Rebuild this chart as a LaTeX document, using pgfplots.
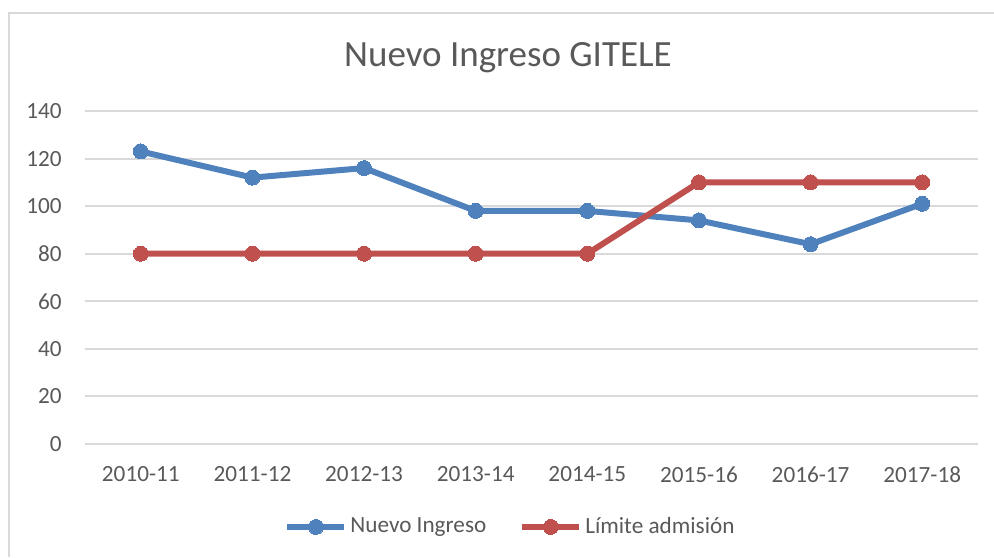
\documentclass[border=0pt]{standalone}
\usepackage{fontspec}
\setmainfont{Carlito}
\usepackage{pgfplots}
\pgfplotsset{compat=1.18}
\definecolor{nblue}{HTML}{4F81BD}
\definecolor{nred}{HTML}{C0504D}
\definecolor{txt}{HTML}{595959}
\definecolor{gridc}{HTML}{D9D9D9}
\begin{document}
\begin{tikzpicture}
\useasboundingbox (0,0) rectangle (497pt,278.5pt);
\draw[gridc, line width=1pt] (4.5pt,0pt) -- (4.5pt,272pt) -- (497pt,272pt);
\node[anchor=base, text=txt, font=\fontsize{18.5}{22}\selectfont, inner sep=0pt] at (254pt,245pt) {Nuevo Ingreso GITELE};
\begin{axis}[
  at={(42.5pt,56.5pt)}, anchor=south west,
  scale only axis, width=446.5pt, height=166.5pt,
  xmin=-0.5, xmax=7.5, ymin=0, ymax=140,
  xtick={0,...,7},
  xticklabels={2010-11,2011-12,2012-13,2013-14,2014-15,2015-16,2016-17,2017-18},
  ytick={0,20,...,140},
  ymajorgrids=true, xmajorgrids=false,
  major grid style={draw=gridc, line width=1pt},
  axis line style={draw=none}, tick style={draw=none},
  /pgf/number format/assume math mode=true,
  ticklabel style={text=txt, font=\fontsize{11.6}{14}\selectfont},
  yticklabel style={inner sep=0pt, xshift=-11.5pt},
  xticklabel style={inner sep=0pt, yshift=-11pt},
  legend columns=2,
  legend style={at={(0.477,-0.249)}, anchor=center, draw=none, fill=none,
    font=\fontsize{11.6}{14}\selectfont, text=txt,
    nodes={inner sep=1.5pt},
    /tikz/every even column/.append style={column sep=15pt}},
  legend image code/.code={\draw[mark repeat=2,mark phase=2,#1] plot coordinates {(0pt,0pt) (14.25pt,0pt) (28.5pt,0pt)};},
  clip=false,
]
\addplot[nblue, line width=3pt, mark=*, mark size=3.75pt, mark options={solid, line width=0pt}]
  coordinates {(0,123) (1,112) (2,116) (3,98) (4,98) (5,94) (6,84) (7,101)};
\addlegendentry{Nuevo Ingreso}
\addplot[nred, line width=3pt, mark=*, mark size=3.75pt, mark options={solid, line width=0pt}]
  coordinates {(0,80) (1,80) (2,80) (3,80) (4,80) (5,110) (6,110) (7,110)};
\addlegendentry{Límite admisión}
\end{axis}
\end{tikzpicture}
\end{document}
